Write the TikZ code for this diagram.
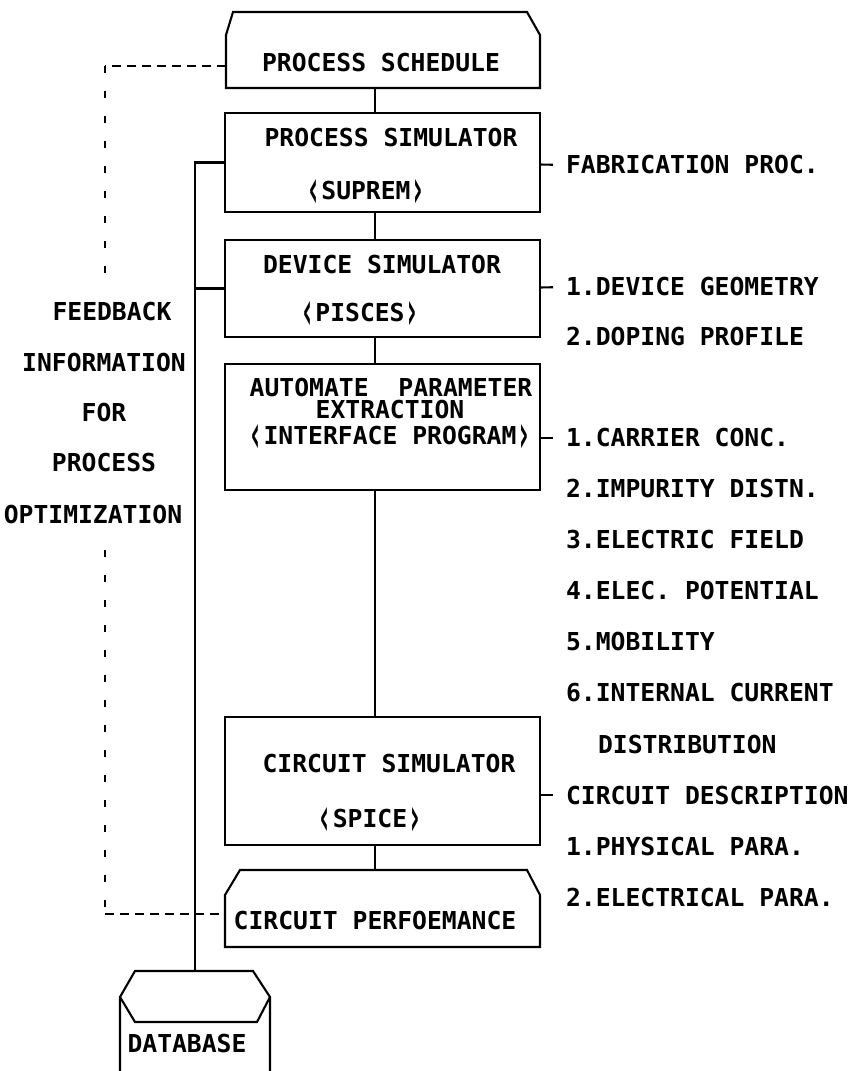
\documentclass[tikz,border=0pt]{standalone}
\usepackage{fontspec}
\newfontfamily\pixfam{DejaVu Sans Mono}
\newcommand\pixfont{\pixfam\bfseries\fontsize{24.7}{24.7}\selectfont}
\newcommand\lab{\raisebox{-0.33em}{\scalebox{1}[2.2]{‹}}}
\newcommand\rab{\raisebox{-0.33em}{\scalebox{1}[2.2]{›}}}
\usetikzlibrary{calc}
\begin{document}
\begin{tikzpicture}[x=1pt,y=-1pt,line width=2.1pt,
  boxnode/.style={draw,rectangle,inner sep=0pt,outer sep=0pt},
  shapenode/.style={rectangle,inner sep=0pt,outer sep=0pt},
  txt/.style={font=\pixfont,inner sep=0pt,anchor=center},
  btxt/.style={font=\pixfont,inner sep=0pt,anchor=base},
  rtxt/.style={font=\pixfont,inner sep=0pt,anchor=west},
  fbh/.style={dash pattern=on 9pt off 6pt},
  fbv/.style={dash pattern=on 7pt off 18pt}]
\useasboundingbox (0,0) rectangle (850,1071);
\fill[white] (0,0) rectangle (850,1071);

% boxes
\node[shapenode,minimum width=314pt,minimum height=76pt] (sched) at (383,50) {};
\draw (sched.south west) -- ($(sched.north west)+(0,23)$) -- ($(sched.north west)+(7,0)$)
  -- ($(sched.north east)+(-13,0)$) -- ($(sched.north east)+(0,23)$) -- (sched.south east) -- cycle;
\node[boxnode,minimum width=315pt,minimum height=99pt] (psim) at (382.5,162.5) {};
\node[boxnode,minimum width=315pt,minimum height=97pt] (dev) at (382.5,288.5) {};
\node[boxnode,minimum width=315pt,minimum height=126pt] (auto) at (382.5,427) {};
\node[boxnode,minimum width=315pt,minimum height=128pt] (csim) at (382.5,781) {};
\node[shapenode,minimum width=315pt,minimum height=77pt] (perf) at (382.5,908.5) {};
\draw (perf.south west) -- ($(perf.north west)+(0,25)$) -- ($(perf.north west)+(15,0)$)
  -- ($(perf.north east)+(-13,0)$) -- ($(perf.north east)+(0,25)$) -- (perf.south east) -- cycle;
\node[shapenode,minimum width=150pt,minimum height=100pt] (db) at (195,1021) {};
\draw (db.south west) -- ($(db.north west)+(0,26)$) -- ($(db.north west)+(15,0)$)
  -- ($(db.north east)+(-17,0)$) -- ($(db.north east)+(0,26)$) -- (db.south east);
\draw ($(db.north west)+(0,26)$) -- ($(db.north west)+(15,51)$) -- ($(db.north east)+(-13,51)$) -- ($(db.north east)+(0,26)$);

% box texts (bracketed lines placed by baseline)
\node[txt] (t1) at (381,63) {PROCESS SCHEDULE};
\node[txt] (t2) at (391,138) {PROCESS SIMULATOR};
\node[btxt] (t3) at (366,199) {\lab SUPREM\rab};
\node[txt] (t4) at (382,265) {DEVICE SIMULATOR};
\node[btxt] (t5) at (360,321) {\lab PISCES\rab};
\node[txt] (t6) at (391,388) {AUTOMATE~~PARAMETER};
\node[txt] (t7) at (390,410) {EXTRACTION};
\node[btxt] (t8) at (390,444) {\lab INTERFACE PROGRAM\rab};
\node[txt] (t9) at (389,763) {CIRCUIT SIMULATOR};
\node[btxt] (t10) at (370,827) {\lab SPICE\rab};
\node[txt] (t11) at (375,920) {CIRCUIT PERFOEMANCE};
\node[txt] (t12) at (187,1043) {DATABASE};

% left texts
\node[txt] (l1) at (112,312) {FEEDBACK};
\node[txt] (l2) at (104,363) {INFORMATION};
\node[txt] (l3) at (104,413) {FOR};
\node[txt] (l4) at (104,463) {PROCESS};
\node[txt] (l5) at (93,515) {OPTIMIZATION};

% right texts
\node[rtxt] (r1) at (565,165) {FABRICATION PROC.};
\node[rtxt] (r2) at (565,287) {1.DEVICE GEOMETRY};
\node[rtxt] (r3) at (565,337) {2.DOPING PROFILE};
\node[rtxt] (r4) at (565,438) {1.CARRIER CONC.};
\node[rtxt] (r5) at (565,489) {2.IMPURITY DISTN.};
\node[rtxt] (r6) at (565,540) {3.ELECTRIC FIELD};
\node[rtxt] (r7) at (565,591) {4.ELEC. POTENTIAL};
\node[rtxt] (r8) at (565,642) {5.MOBILITY};
\node[rtxt] (r9) at (565,693) {6.INTERNAL CURRENT};
\node[rtxt] (r10) at (597,744) {DISTRIBUTION};
\node[rtxt] (r11) at (565,795) {CIRCUIT DESCRIPTION};
\node[rtxt] (r12) at (565,846) {1.PHYSICAL PARA.};
\node[rtxt] (r13) at (565,897) {2.ELECTRICAL PARA.};

% main chain
\coordinate (vx) at (375,0);
\draw (sched.south -| vx) -- (psim.north -| vx);
\draw (psim.south -| vx) -- (dev.north -| vx);
\draw (dev.south -| vx) -- (auto.north -| vx);
\draw (auto.south -| vx) -- (csim.north -| vx);
\draw (csim.south -| vx) -- (perf.north -| vx);

% bus
\coordinate (bus) at (195,0);
\draw (psim.west) -| (db.north);
\draw (dev.west) -- (dev.west -| bus);
\draw ($(csim.west)+(0,13)$) -- ($(csim.west)+(0,13)$ -| bus);

% right ticks
\draw[shorten >=12pt] ($(psim.east)+(0,2)$) -- (r1.west);
\draw[shorten >=12pt] ($(dev.east)+(0,-1)$) -- (r2.west);
\draw[shorten >=12pt] ($(auto.east)+(0,11)$) -- (r4.west);
\draw[shorten >=12pt] ($(csim.east)+(0,14)$) -- (r11.west);

% feedback dashed
\coordinate (fbtop) at (105,66);
\coordinate (fbmid1) at (105,287);
\coordinate (fbmid2) at (105,550);
\coordinate (fbbot) at (105,914);
\draw[fbh] ($(sched.south west)+(0,-22)$) -- (fbtop);
\draw[fbv] (fbtop) -- (fbmid1);
\draw[fbv] (fbmid2) -- (fbbot);
\draw[fbh] (fbbot) -- ($(perf.south west)+(0,-33)$);
\end{tikzpicture}
\end{document}
